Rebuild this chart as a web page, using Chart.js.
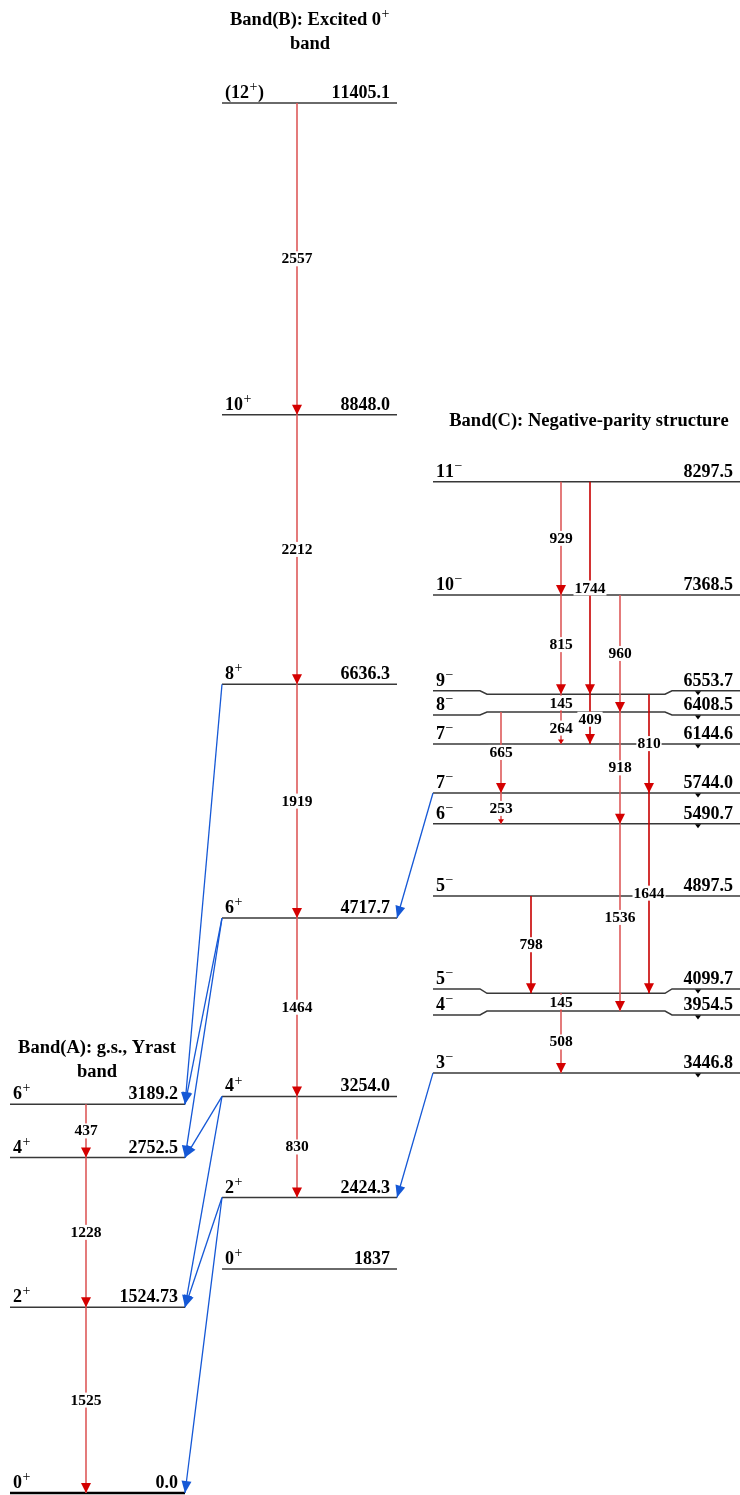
<!DOCTYPE html>
<html>
<head>
<meta charset="utf-8">
<script src="https://cdn.jsdelivr.net/npm/chart.js@4.4.0/dist/chart.umd.min.js"></script>
<style>
  body { margin: 0; background: #fff; }
  canvas { display: block; }
</style>
</head>
<body>
<canvas id="levelChart" width="740" height="1495"></canvas>
<script>
// level energies (keV) and spins, one pair of lists per band ('^' marks a superscript sign)
const levelsA = ['0.0', '1524.73', '2752.5', '3189.2'];
const spinsA = ['0^+', '2^+', '4^+', '6^+'];
const levelsB = ['1837', '2424.3', '3254.0', '4717.7', '6636.3', '8848.0', '11405.1'];
const spinsB = ['0^+', '2^+', '4^+', '6^+', '8^+', '10^+', '(12^+)'];
const levelsC = ['3446.8', '3954.5', '4099.7', '4897.5', '5490.7', '5744.0', '6144.6', '6408.5', '6553.7', '7368.5', '8297.5'];
const spinsC = ['3^-', '4^-', '5^-', '5^-', '6^-', '7^-', '7^-', '8^-', '9^-', '10^-', '11^-'];

// in-band gammas: [initial level, final level, label]
const gammasA = [['3189.2', '2752.5', '437'], ['2752.5', '1524.73', '1228'], ['1524.73', '0.0', '1525']];
const gammasB = [
  ['11405.1', '8848.0', '2557'], ['8848.0', '6636.3', '2212'], ['6636.3', '4717.7', '1919'],
  ['4717.7', '3254.0', '1464'], ['3254.0', '2424.3', '830']
];
const gammasC = [
  ['8297.5', '7368.5', '929'], ['8297.5', '6553.7', '1744'], ['7368.5', '6553.7', '815'],
  ['7368.5', '6408.5', '960'], ['6553.7', '6408.5', '145'], ['6553.7', '6144.6', '409'],
  ['6553.7', '5744.0', '810'], ['6408.5', '6144.6', '264'], ['6408.5', '5744.0', '665'],
  ['6408.5', '5490.7', '918'], ['5744.0', '5490.7', '253'], ['5744.0', '4099.7', '1644'],
  ['5490.7', '3954.5', '1536'], ['4897.5', '4099.7', '798'], ['4099.7', '3954.5', '145'],
  ['3954.5', '3446.8', '508']
];
// gammas linking bands (unlabelled): [band, level, band, level]
const crossGammas = [
  ['B', '6636.3', 'A', '3189.2'], ['B', '4717.7', 'A', '3189.2'], ['B', '4717.7', 'A', '2752.5'],
  ['B', '3254.0', 'A', '2752.5'], ['B', '3254.0', 'A', '1524.73'], ['B', '2424.3', 'A', '1524.73'],
  ['B', '2424.3', 'A', '0.0'], ['C', '5744.0', 'B', '4717.7'], ['C', '3446.8', 'B', '2424.3']
];
const titlesA = ['Band(A): g.s., Yrast', 'band'];
const titlesB = ['Band(B): Excited 0^+', 'band'];
const titlesC = ['Band(C): Negative-parity structure'];

// ---- layout (horizontal units = px of the 740 wide picture) ----
const bandX = { A: [10, 185], B: [222, 397], C: [433, 740] };
const laneA = 86, laneB = 297;
const laneC = { '929': 561, '1744': 590, '815': 561, '960': 620, '145': 561, '409': 590, '810': 649, '264': 561,
  '665': 501, '918': 620, '253': 501, '1644': 649, '1536': 620, '798': 531, '508': 561 };
const darkLines = ['1744', '409', '810', '1644', '798'];
const smallHeads = ['264', '253'];
// outer ends of crowded levels are bent away (keV) to make room for labels
const bend = { '6553.7': 29, '6408.5': -25, '4099.7': 36, '3954.5': -32 };
const markLevels = ['3446.8', '3954.5', '4099.7', '5490.7', '5744.0', '6144.6', '6408.5', '6553.7'];

const LEVEL_COLOR = '#383838';
const RED_LIGHT = '#de5a5a', RED_DARK = '#c80000', RED_HEAD = '#d40000', BLUE = '#1558d6';
const SERIF = '"Liberation Serif", "Times New Roman", serif';

const bands = { A: { levels: levelsA, spins: spinsA }, B: { levels: levelsB, spins: spinsB }, C: { levels: levelsC, spins: spinsC } };

const datasets = [];

// level lines
Object.keys(bands).forEach(b => {
  const [x0, x1] = bandX[b];
  bands[b].levels.forEach(lv => {
    const e = Number(lv);
    let pts = [{ x: x0, y: e }, { x: x1, y: e }];
    if (bend[lv] !== undefined) {
      const eo = e + bend[lv];
      pts = [{ x: x0, y: eo }, { x: 480, y: eo }, { x: 487, y: e }, { x: 665, y: e }, { x: 672, y: eo }, { x: x1, y: eo }];
    }
    datasets.push({
      data: pts, showLine: true, pointRadius: 0, order: 3,
      borderColor: lv === '0.0' ? '#000' : LEVEL_COLOR,
      borderWidth: lv === '0.0' ? 2.5 : 1.5
    });
  });
});

// in-band gammas
function addGammas(list, laneOf) {
  list.forEach(g => {
    const x = laneOf(g[2]);
    datasets.push({
      data: [{ x: x, y: Number(g[0]) }, { x: x, y: Number(g[1]) }],
      showLine: true, pointRadius: 0, order: 2,
      borderColor: darkLines.includes(g[2]) ? RED_DARK : RED_LIGHT,
      borderWidth: 1.6,
      head: smallHeads.includes(g[2]) ? 'small' : 'big', headColor: RED_HEAD,
      gammaLabel: g[2]
    });
  });
}
addGammas(gammasA, () => laneA);
addGammas(gammasB, () => laneB);
addGammas(gammasC, l => laneC[l]);

// inter-band gammas: from left end of upper band to right end of lower band
crossGammas.forEach(c => {
  datasets.push({
    data: [{ x: bandX[c[0]][0], y: Number(c[1]) }, { x: bandX[c[2]][1], y: Number(c[3]) }],
    showLine: true, pointRadius: 0, order: 1,
    borderColor: BLUE, borderWidth: 1.3,
    head: 'blue', headColor: BLUE
  });
});

function drawRich(ctx, str, x, y, size, align) {
  const parts = [];
  for (let i = 0; i < str.length; i++) {
    if (str[i] === '^') { parts.push({ t: str[i + 1] === '-' ? '\u2212' : '+', sup: true }); i++; }
    else parts.push({ t: str[i], sup: false });
  }
  const mainFont = 'bold ' + size + 'px ' + SERIF;
  const supFont = Math.round(size * 0.78) + 'px ' + SERIF;
  let w = 0;
  parts.forEach(p => { ctx.font = p.sup ? supFont : mainFont; p.w = ctx.measureText(p.t).width; w += p.w + (p.sup ? 1 : 0); });
  let cx = align === 'right' ? x - w : align === 'center' ? x - w / 2 : x;
  ctx.textAlign = 'left';
  ctx.textBaseline = 'alphabetic';
  parts.forEach(p => {
    ctx.font = p.sup ? supFont : mainFont;
    ctx.fillText(p.t, cx + (p.sup ? 0.5 : 0), p.sup ? y - size * 0.38 : y);
    cx += p.w + (p.sup ? 1 : 0);
  });
}

const arrowPlugin = {
  id: 'arrowHeads',
  afterDatasetsDraw(chart) {
    const ctx = chart.ctx;
    chart.data.datasets.forEach((ds, i) => {
      if (!ds.head) return;
      const pts = chart.getDatasetMeta(i).data;
      const a = pts[0], b = pts[pts.length - 1];
      const ang = Math.atan2(b.y - a.y, b.x - a.x);
      let len = 10, half = 5;
      if (ds.head === 'small') { len = 4.5; half = 3; }
      if (ds.head === 'blue') { len = 12; half = 5; }
      ctx.save();
      ctx.translate(b.x, b.y);
      ctx.rotate(ang);
      ctx.beginPath();
      ctx.moveTo(0, 0);
      ctx.lineTo(-len, -half);
      ctx.lineTo(-len, half);
      ctx.closePath();
      ctx.fillStyle = ds.headColor;
      ctx.fill();
      ctx.restore();
    });
  }
};

const textPlugin = {
  id: 'levelTexts',
  afterDraw(chart) {
    const ctx = chart.ctx;
    const xs = chart.scales.x, ys = chart.scales.y;
    ctx.save();
    // gamma energy labels on white boxes at the middle of each line
    ctx.font = 'bold 15.5px ' + SERIF;
    chart.data.datasets.forEach((ds, i) => {
      if (!ds.gammaLabel) return;
      const pts = chart.getDatasetMeta(i).data;
      const mx = (pts[0].x + pts[1].x) / 2, my = (pts[0].y + pts[1].y) / 2;
      const w = ctx.measureText(ds.gammaLabel).width;
      ctx.fillStyle = '#fff';
      ctx.fillRect(mx - w / 2 - 1, my - 7.5, w + 2, 15);
      ctx.fillStyle = '#000';
      ctx.textAlign = 'center';
      ctx.textBaseline = 'middle';
      ctx.fillText(ds.gammaLabel, mx, my + 0.5);
    });
    // spins and level energies
    ctx.fillStyle = '#000';
    Object.keys(bands).forEach(b => {
      const [x0, x1] = bandX[b];
      bands[b].levels.forEach((lv, k) => {
        const e = Number(lv) + (bend[lv] || 0);
        const y = ys.getPixelForValue(e) - 5;
        drawRich(ctx, bands[b].spins[k], xs.getPixelForValue(x0 + 3), y, 18, 'left');
        drawRich(ctx, lv, xs.getPixelForValue(x1 - 7), y, 18, 'right');
        if (markLevels.includes(lv)) {
          const mx = xs.getPixelForValue(698), my = ys.getPixelForValue(e) + 0.5;
          ctx.beginPath();
          ctx.moveTo(mx - 3, my);
          ctx.lineTo(mx + 3, my);
          ctx.lineTo(mx, my + 4);
          ctx.closePath();
          ctx.fill();
        }
      });
    });
    // band titles
    const titleAt = (lines, cx, y0) => lines.forEach((t, j) => drawRich(ctx, t, cx, y0 + j * 24, 18.5, 'center'));
    titleAt(titlesA, 97, 1053);
    titleAt(titlesB, 310, 25);
    titleAt(titlesC, 589, 426);
    ctx.restore();
  }
};

new Chart(document.getElementById('levelChart'), {
  type: 'scatter',
  data: { datasets: datasets },
  options: {
    responsive: false,
    animation: false,
    events: [],
    layout: { padding: 0 },
    plugins: { legend: { display: false }, tooltip: { enabled: false } },
    scales: {
      x: { type: 'linear', display: false, min: 0, max: 740 },
      y: { type: 'linear', display: false, min: -16.4, max: 12250.2 }
    }
  },
  plugins: [arrowPlugin, textPlugin]
});
</script>
</body>
</html>
